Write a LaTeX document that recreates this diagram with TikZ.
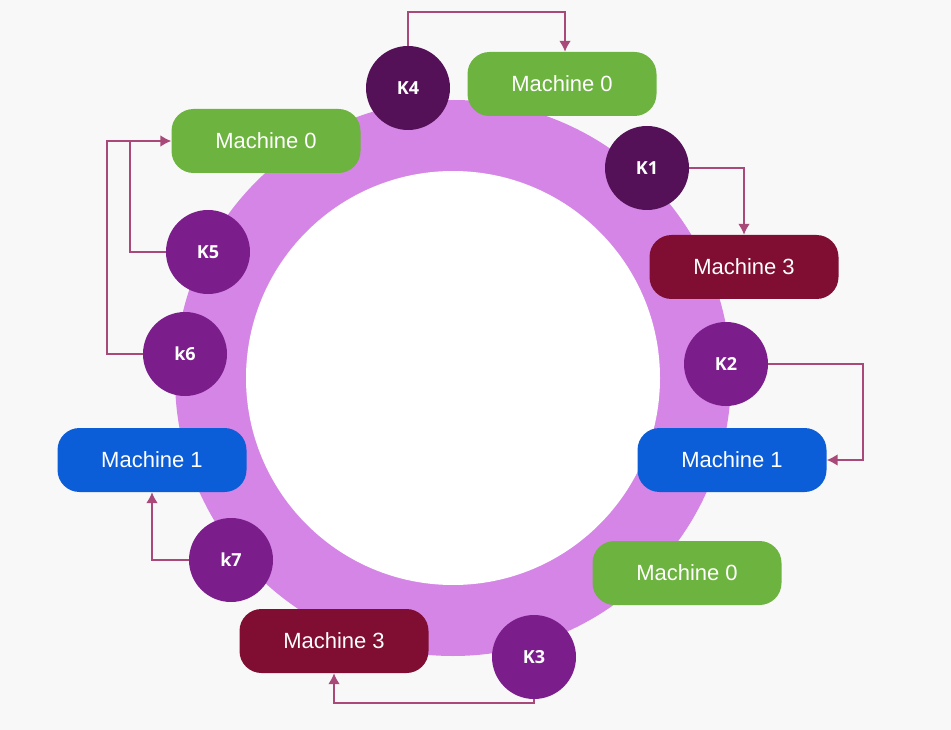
\documentclass[tikz,border=0pt]{standalone}
\usepackage{fontspec}
\setmainfont{Liberation Sans}
\newfontfamily\kfont{Open Sans}
\definecolor{bg}{HTML}{F8F8F8}
\definecolor{ringc}{HTML}{D585E6}
\definecolor{mgreen}{HTML}{6DB33F}
\definecolor{mblue}{HTML}{0B5ED7}
\definecolor{mred}{HTML}{7F0E32}
\definecolor{kdark}{HTML}{541157}
\definecolor{kmid}{HTML}{7B1E8C}
\definecolor{arr}{HTML}{A8497A}
\begin{document}
\begin{tikzpicture}[x=1pt,y=-1pt,
  pill/.style={rounded corners=22pt,minimum width=189pt,minimum height=64pt,text=white,font=\fontsize{22}{24}\selectfont,inner sep=0pt},
  kc/.style={circle,minimum size=84pt,inner sep=0pt,text=white,font=\kfont\bfseries\fontsize{18}{20}\selectfont},
  conn/.style={draw=arr,line width=2.5pt,-{Latex[length=11pt,width=12pt]}}]
\usetikzlibrary{arrows.meta}
\fill[bg] (0,0) rectangle (951,730);
\fill[ringc] (453,378) circle (278);
\fill[white] (453,378) circle (207);
\node[pill,fill=mgreen] (m0a) at (562,84) {Machine 0};
\node[pill,fill=mgreen] (m0b) at (266,141) {Machine 0};
\node[pill,fill=mred] (m3a) at (744,267) {Machine 3};
\node[pill,fill=mblue] (m1a) at (732,460) {Machine 1};
\node[pill,fill=mgreen] (m0c) at (687,573) {Machine 0};
\node[pill,fill=mred] (m3b) at (334,641) {Machine 3};
\node[pill,fill=mblue] (m1b) at (152,460) {Machine 1};
\node[kc,fill=kdark] (k4) at (408,88) {K4};
\node[kc,fill=kdark] (k1) at (647,168) {K1};
\node[kc,fill=kmid] (k2) at (726,364) {K2};
\node[kc,fill=kmid] (k3) at (534,657) {K3};
\node[kc,fill=kmid] (k7) at (231,560) {k7};
\node[kc,fill=kmid] (k6) at (185,354) {k6};
\node[kc,fill=kmid] (k5) at (208,252) {K5};
\coordinate (c4a) at (408,12); \coordinate (c4b) at (565,12);
\coordinate (c2) at (863,364);
\coordinate (c6) at (107,354);
\coordinate (c5) at (130,252);
\coordinate (c3) at (534,703);
\path[conn] (k4.north) -- (c4a) -- (c4b) -- (c4b |- m0a.north);
\path[conn] (k1.east) -| (m3a.north);
\path[conn] (k2.east) -- (c2) |- (m1a.east);
\path[conn] (k6.west) -- (c6) |- (m0b.west);
\draw[draw=arr,line width=2.5pt] (k5.west) -- (c5) -- (c5 |- m0b.west);
\path[conn] (k7.west) -| (m1b.south);
\path[conn] (k3.south) -- (c3) -| (m3b.south);
\end{tikzpicture}
\end{document}
